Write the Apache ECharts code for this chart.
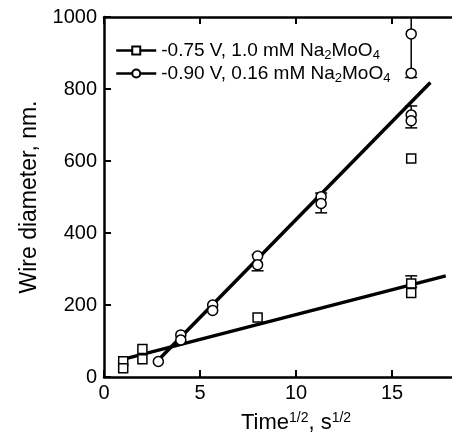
<!DOCTYPE html>
<html lang="en">
<head>
    <meta charset="UTF-8">
    <title>Wire diameter</title>
    <script src="https://cdn.jsdelivr.net/npm/echarts@6/dist/echarts.min.js"></script>
    <style>
        body { margin: 0; background: #fff; }
        #main { width: 452px; height: 440px; }
    </style>
</head>
<body>
    <div id="main"></div>
    <script>
        // -0.75 V, 1.0 mM
        var squareX = [1, 1, 2, 2, 8, 16, 16, 16]
        var squareY = [44, 24, 78, 49, 165, 260, 233, 607]
        // -0.90 V, 0.16 mM
        var circleX = [2.83, 4, 4, 5.66, 5.66, 8, 8, 11.31, 11.31, 16, 16, 16, 16]
        var circleY = [43, 117, 103, 200, 185, 336, 312, 501, 482, 728, 712, 953, 844]

        // error bars
        var errX = [16, 8, 11.31, 16, 16]
        var errLow = [250, 295, 456, 692, 832]
        var errHigh = [281, 340, 511, 753, 1080]

        // fitted lines (end points)
        var fitSquareX = [0.83, 17.8]
        var fitSquareY = [47, 281]
        var fitCircleX = [2.83, 17.0]
        var fitCircleY = [47, 818]

        function pairs(xs, ys) {
            return xs.map(function (x, i) { return [x, ys[i]] })
        }

        var name1 = '-0.75 V, 1.0 mM Na{sub|2}MoO{sub|4}'
        var name2 = '-0.90 V, 0.16 mM Na{sub|2}MoO{sub|4}'
        var font = 'Liberation Sans, Arial, sans-serif'

        var myChart = echarts.init(document.getElementById('main'))

        var option = {
            backgroundColor: '#fff',
            animation: false,
            textStyle: { fontFamily: font, color: '#000' },
            // x axis runs to 20, the right part is cut off by the window
            grid: { left: 104, top: 17, width: 384, height: 360, outerBoundsMode: 'none', containLabel: false },
            legend: {
                orient: 'vertical',
                left: 110,
                top: 36,
                itemGap: 2,
                itemWidth: 40,
                itemHeight: 10,
                data: [name1, name2],
                lineStyle: { color: '#000', width: 2.5, opacity: 1 },
                textStyle: {
                    fontFamily: font,
                    fontSize: 19,
                    color: '#000',
                    rich: {
                        sub: { fontSize: 13, verticalAlign: 'bottom', padding: [10, 0, 0, 0] }
                    }
                }
            },
            xAxis: [{
                type: 'value',
                min: 0, max: 20, interval: 5,
                name: 'Time{sup|1/2}, s{sup|1/2}',
                nameLocation: 'middle',
                nameGap: 34,
                nameTextStyle: {
                    fontFamily: font, fontSize: 22, color: '#000',
                    rich: { sup: { fontSize: 14, verticalAlign: 'top', padding: [0, 0, 10, 0] } }
                },
                axisLine: { lineStyle: { color: '#000', width: 2.5 } },
                axisTick: { inside: true, length: 7, lineStyle: { color: '#000', width: 2 } },
                axisLabel: {
                    fontSize: 20, color: '#000', margin: 6,
                    formatter: function (v) { return v === 20 ? '' : String(v) }
                },
                splitLine: { show: false }
            }, {
                type: 'value',
                position: 'top',
                min: 0, max: 20, interval: 5,
                axisLine: { lineStyle: { color: '#000', width: 2.5 } },
                axisTick: { inside: true, length: 7, lineStyle: { color: '#000', width: 2 } },
                axisLabel: { show: false },
                splitLine: { show: false }
            }],
            yAxis: {
                type: 'value',
                min: 0, max: 1000, interval: 200,
                name: 'Wire diameter, nm.',
                nameLocation: 'middle',
                nameGap: 62,
                nameTextStyle: { fontFamily: font, fontSize: 23, color: '#000' },
                axisLine: { show: true, lineStyle: { color: '#000', width: 2.5 } },
                axisTick: { show: true, inside: true, length: 7, lineStyle: { color: '#000', width: 2 } },
                axisLabel: {
                    fontSize: 20, color: '#000', margin: 7,
                    formatter: function (v) { return String(v) }
                },
                splitLine: { show: false }
            },
            series: [{
                type: 'line',
                data: pairs(fitSquareX, fitSquareY),
                showSymbol: false,
                lineStyle: { color: '#000', width: 3.5 },
                z: 2
            }, {
                type: 'line',
                data: pairs(fitCircleX, fitCircleY),
                showSymbol: false,
                lineStyle: { color: '#000', width: 3.5 },
                z: 2
            }, {
                type: 'custom',
                clip: true,
                data: errX.map(function (x, i) { return [x, errLow[i], errHigh[i]] }),
                renderItem: function (params, api) {
                    var lo = api.coord([api.value(0), api.value(1)])
                    var hi = api.coord([api.value(0), api.value(2)])
                    var w = 6
                    var st = { stroke: '#000', lineWidth: 1.5 }
                    return {
                        type: 'group',
                        children: [
                            { type: 'line', shape: { x1: lo[0], y1: lo[1], x2: hi[0], y2: hi[1] }, style: st },
                            { type: 'line', shape: { x1: lo[0] - w, y1: lo[1], x2: lo[0] + w, y2: lo[1] }, style: st },
                            { type: 'line', shape: { x1: hi[0] - w, y1: hi[1], x2: hi[0] + w, y2: hi[1] }, style: st }
                        ]
                    }
                },
                z: 3
            }, {
                name: name1,
                type: 'line',
                data: pairs(squareX, squareY),
                symbol: 'rect',
                symbolSize: 9,
                showAllSymbol: true,
                lineStyle: { width: 0, opacity: 0 },
                itemStyle: { color: '#fff', borderColor: '#000', borderWidth: 1.5 },
                z: 4
            }, {
                name: name2,
                type: 'line',
                data: pairs(circleX, circleY),
                symbol: 'circle',
                symbolSize: 10,
                showAllSymbol: true,
                lineStyle: { width: 0, opacity: 0 },
                itemStyle: { color: '#fff', borderColor: '#000', borderWidth: 1.5 },
                z: 4
            }]
        }
        myChart.setOption(option)
    </script>
</body>
</html>
